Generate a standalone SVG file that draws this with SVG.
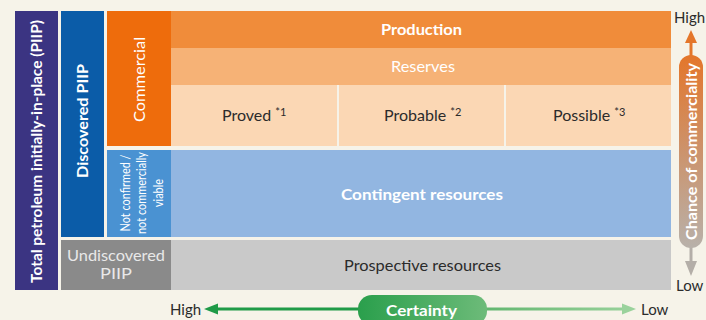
<svg xmlns="http://www.w3.org/2000/svg" width="706" height="320" viewBox="0 0 706 320">
  <defs>
    <linearGradient id="gradChance" x1="0" y1="55" x2="0" y2="248" gradientUnits="userSpaceOnUse">
      <stop offset="0" stop-color="#e4762a"/>
      <stop offset="0.5" stop-color="#cc936c"/>
      <stop offset="1" stop-color="#b8b1aa"/>
    </linearGradient>
    <linearGradient id="gradCertPill" x1="358" y1="0" x2="487" y2="0" gradientUnits="userSpaceOnUse">
      <stop offset="0" stop-color="#2a9f4c"/>
      <stop offset="1" stop-color="#6dbb79"/>
    </linearGradient>
    <linearGradient id="gradCertLine" x1="486" y1="0" x2="636" y2="0" gradientUnits="userSpaceOnUse">
      <stop offset="0" stop-color="#62b670"/>
      <stop offset="1" stop-color="#9ad29c"/>
    </linearGradient>
  </defs>
  <style>
    .t { font-family: Lato, "Open Sans", "Liberation Sans", sans-serif; }
    .w { fill: #ffffff; }
    .d { fill: #2b2b2b; }
    .b { font-weight: 700; }
    .cell { shape-rendering: crispEdges; }
  </style>

  <rect x="0" y="0" width="706" height="320" fill="#f6f3e9"/>

  <!-- left category bars -->
  <g id="total-piip">
    <rect class="cell" x="15" y="11" width="43" height="279" fill="#3b3482"/>
    <text class="t w b" font-size="15.5" text-anchor="middle" transform="translate(42,151.5) rotate(-90)" textLength="263" lengthAdjust="spacingAndGlyphs">Total petroleum initially-in-place (PIIP)</text>
  </g>
  <g id="discovered-piip">
    <rect class="cell" x="61" y="11" width="43" height="226" fill="#0b5ca8"/>
    <text class="t w b" font-size="15.5" text-anchor="middle" transform="translate(88,121) rotate(-90)" textLength="114" lengthAdjust="spacingAndGlyphs">Discovered PIIP</text>
  </g>
  <g id="undiscovered-piip">
    <rect class="cell" x="61" y="240" width="110" height="50" fill="#8a8a8a"/>
    <text class="t" fill="#e8e8e8" font-size="15" text-anchor="middle" x="116" y="261" textLength="98" lengthAdjust="spacingAndGlyphs">Undiscovered</text>
    <text class="t" fill="#e8e8e8" font-size="15" text-anchor="middle" x="116" y="278.5" textLength="32" lengthAdjust="spacingAndGlyphs">PIIP</text>
  </g>
  <g id="commercial">
    <rect class="cell" x="107" y="11" width="64" height="135" fill="#ee6c0c"/>
    <text class="t w" font-size="16" text-anchor="middle" transform="translate(145,79.5) rotate(-90)" textLength="85" lengthAdjust="spacingAndGlyphs">Commercial</text>
  </g>
  <g id="not-confirmed">
    <rect class="cell" x="107" y="150" width="64" height="87" fill="#4a92d2"/>
    <g class="t w" font-size="14" text-anchor="middle" transform="translate(0,193) rotate(-90)">
      <text x="0" y="129.5" textLength="77" lengthAdjust="spacingAndGlyphs">Not confirmed /</text>
      <text x="0" y="146" textLength="82" lengthAdjust="spacingAndGlyphs">not commercially</text>
      <text x="0" y="162.5" textLength="28" lengthAdjust="spacingAndGlyphs">viable</text>
    </g>
  </g>

  <!-- resource classes -->
  <g id="production">
    <rect class="cell" x="171" y="11" width="500" height="37" fill="#f08c3a"/>
    <text class="t w b" font-size="16" text-anchor="middle" x="421.5" y="35" textLength="81" lengthAdjust="spacingAndGlyphs">Production</text>
  </g>
  <g id="reserves">
    <rect class="cell" x="171" y="48" width="500" height="37" fill="#f6b276"/>
    <text class="t w" font-size="16" text-anchor="middle" x="423" y="72" textLength="64" lengthAdjust="spacingAndGlyphs">Reserves</text>
  </g>
  <g id="proved">
    <rect class="cell" x="171" y="85" width="166" height="61" fill="#fbd7b4"/>
    <text class="t d" font-size="16" x="222" y="121">Proved <tspan font-size="11" dy="-5">*1</tspan></text>
  </g>
  <g id="probable">
    <rect class="cell" x="339" y="85" width="165" height="61" fill="#fbd7b4"/>
    <text class="t d" font-size="16" x="384" y="121">Probable <tspan font-size="11" dy="-5">*2</tspan></text>
  </g>
  <g id="possible">
    <rect class="cell" x="506" y="85" width="165" height="61" fill="#fbd7b4"/>
    <text class="t d" font-size="16" x="553" y="121">Possible <tspan font-size="11" dy="-5">*3</tspan></text>
  </g>
  <g id="contingent">
    <rect class="cell" x="171" y="150" width="500" height="87" fill="#92b6e1"/>
    <text class="t w b" font-size="16" text-anchor="middle" x="422" y="200" textLength="162" lengthAdjust="spacingAndGlyphs">Contingent resources</text>
  </g>
  <g id="prospective">
    <rect class="cell" x="171" y="240" width="500" height="50" fill="#c9c9c9"/>
    <text class="t d" font-size="16" text-anchor="middle" x="422.5" y="271" textLength="157" lengthAdjust="spacingAndGlyphs">Prospective resources</text>
  </g>

  <!-- axis arrows -->
  <g id="connectors">
    <!-- chance of commerciality (vertical) -->
    <line x1="691" y1="42" x2="691" y2="58" stroke="#e4762a" stroke-width="3"/>
    <path d="M691,30 L697,43 L685,43 Z" fill="#e4762a"/>
    <line x1="691" y1="244" x2="691" y2="262" stroke="#b4aea8" stroke-width="3"/>
    <path d="M691,276 L685,261 L697,261 Z" fill="#b4aea8"/>
    <!-- certainty (horizontal) -->
    <line x1="214" y1="309" x2="362" y2="309" stroke="#1f9a47" stroke-width="3"/>
    <path d="M204,309 L218,303.5 L218,314.5 Z" fill="#1f9a47"/>
    <line x1="484" y1="309" x2="624" y2="309" stroke="url(#gradCertLine)" stroke-width="3"/>
    <path d="M636,309 L622,303.5 L622,314.5 Z" fill="#9ad29c"/>
  </g>

  <g id="chance-axis">
    <rect x="679" y="55" width="24" height="193" rx="12" fill="url(#gradChance)"/>
    <text class="t w b" font-size="15.5" text-anchor="middle" transform="translate(696.5,151.5) rotate(-90)" textLength="177" lengthAdjust="spacingAndGlyphs">Chance of commerciality</text>
    <text class="t d" font-size="15" x="674" y="23">High</text>
    <text class="t d" font-size="15" x="676" y="291">Low</text>
  </g>

  <g id="certainty-axis">
    <rect x="358" y="295" width="129" height="30" rx="14" fill="url(#gradCertPill)"/>
    <text class="t w b" font-size="16" text-anchor="middle" x="421.5" y="316" textLength="71" lengthAdjust="spacingAndGlyphs">Certainty</text>
    <text class="t d" font-size="15" x="170" y="315">High</text>
    <text class="t d" font-size="15" x="641" y="315">Low</text>
  </g>
</svg>
